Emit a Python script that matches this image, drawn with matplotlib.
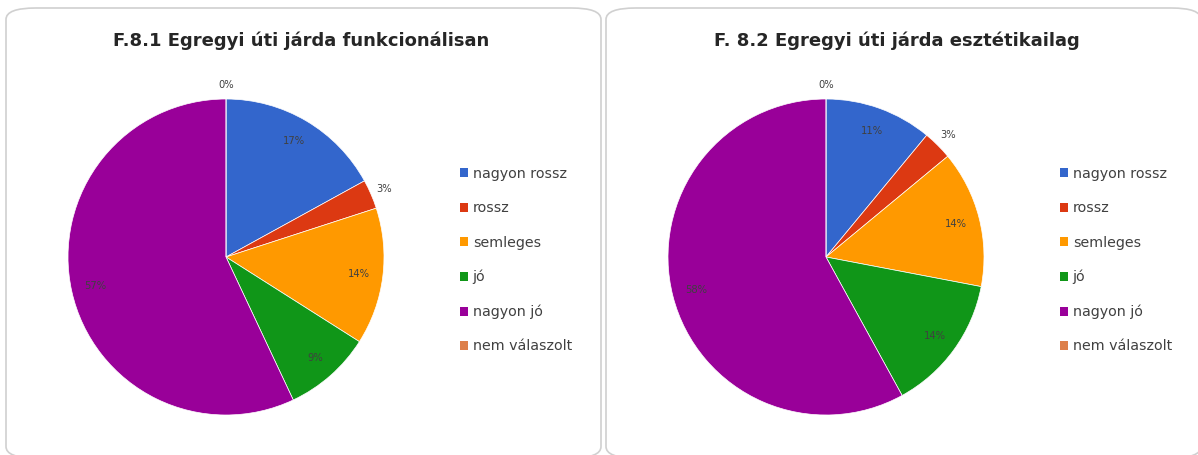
"""
Two pie charts: Egregyi úti járda ratings.
"""
import matplotlib.pyplot as plt
from matplotlib.patches import FancyBboxPatch, Patch
import numpy as np

categories = ["nagyon rossz", "rossz", "semleges", "jó", "nagyon jó", "nem válaszolt"]
funkcionalis = [17, 3, 14, 9, 57, 0]
esztetikai = [11, 3, 14, 14, 58, 0]
titles = [
    "F.8.1 Egregyi úti járda funkcionálisan",
    "F. 8.2 Egregyi úti járda esztétikailag",
]
colors = ["#3366CC", "#DC3912", "#FF9900", "#109618", "#990099", "#DD7F4A"]

W, H = 1198, 455
plt.rcParams["font.family"] = ["DejaVu Sans"]

fig = plt.figure(figsize=(W / 100, H / 100), dpi=100)

# panel frames, kept behind the axes (bottom and far right run off the image)
for x0, x1 in [(6, 601), (606, 1201)]:
    box = FancyBboxPatch(
        (x0 / W, -3 / H), (x1 - x0) / W, (H - 8 + 3) / H,
        boxstyle="round,pad=0,rounding_size=0.025",
        transform=fig.transFigure, facecolor="white",
        edgecolor="#D0D0D0", linewidth=1.2, zorder=-1,
    )
    fig.patches.append(box)


def draw_pie(values, title, cx, title_x, legend_x):
    r = 158
    ax = fig.add_axes([(cx - r) / W, (H - 257 - r) / H, 2 * r / W, 2 * r / H])
    ax.set_zorder(2)
    wedges, _ = ax.pie(
        values, colors=colors, startangle=90, counterclock=False,
        wedgeprops=dict(linewidth=0.5, edgecolor="white"),
    )
    ax.set_xlim(-1, 1)
    ax.set_ylim(-1, 1)
    ax.set_aspect("equal")
    total = sum(values)
    for w, v in zip(wedges, values):
        ang = np.deg2rad((w.theta1 + w.theta2) / 2)
        dist = 0.85 if v / total > 0.05 else 1.09
        ax.text(
            dist * np.cos(ang), dist * np.sin(ang), f"{v}%",
            ha="center", va="center", fontsize=7.2, color="#404040",
            clip_on=False,
        )
    fig.text(title_x / W, 1 - 41 / H, title, ha="center", va="center",
             fontsize=13, fontweight="bold", color="#262626")
    handles = [Patch(facecolor=c, edgecolor="none") for c in colors]
    fig.legend(
        handles, categories, loc="upper left",
        bbox_to_anchor=(legend_x / W, 1 - 154 / H), frameon=False,
        fontsize=10.3, handlelength=0.6, handleheight=0.6, handletextpad=0.3,
        labelspacing=1.42, labelcolor="#404040",
    )


draw_pie(funkcionalis, titles[0], 226, 301, 447)
draw_pie(esztetikai, titles[1], 826, 897, 1047)

fig.savefig("out.png", dpi=100)
